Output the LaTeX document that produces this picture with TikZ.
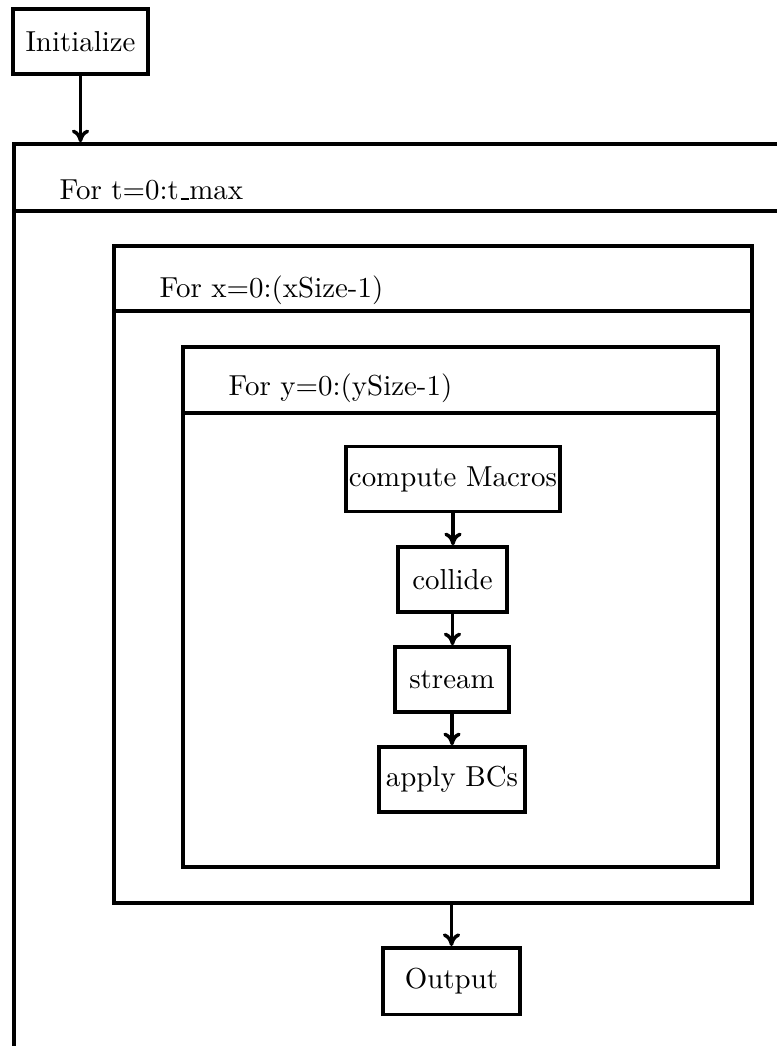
\documentclass[tikz,border=0pt]{standalone}
\usetikzlibrary{arrows.meta,fit}
\newcommand{\lowbar}{\leavevmode\kern.06em\vbox{\hrule width.3em height 0.4pt}}
\begin{document}
\begin{tikzpicture}[x=0.346pt,y=-0.346pt,
  box/.style={draw,line width=1.2pt,inner sep=0pt,minimum height=22.5pt,font=\normalsize},
  container/.style={draw,line width=1.2pt,inner sep=0pt},
  sep/.style={line width=1.2pt},
  head/.style={anchor=west,inner sep=0pt},
  flow/.style={line width=1.2pt,-{To[length=4.4pt,width=6pt]}}]
\useasboundingbox (0,0) rectangle (777,1046);
\clip (0,0) rectangle (777,1046);
% nodes
\node[box,minimum width=46.7pt] (init) at (80.5,41.5) {Initialize};
\node[container,fit={(14,144) (830,1090)}] (tloop) {};
\draw[sep] (14,211) -- (830,211);
\node[head] (thead) at (59,190) {For t=0:t\lowbar max};
\node[container,fit={(114,246) (752,903)}] (xloop) {};
\draw[sep] (xloop.west |- 0,311) -- (xloop.east |- 0,311);
\node[head] (xhead) at (159,290) {For x=0:(xSize-1)};
\node[container,fit={(183,347) (718,867)}] (yloop) {};
\draw[sep] (yloop.west |- 0,413) -- (yloop.east |- 0,413);
\node[head] (yhead) at (228,388) {For y=0:(ySize-1)};
\node[box,minimum width=74pt] (macros) at (453,479) {compute Macros};
\node[box,minimum width=37.7pt] (collide) at (452.5,579.5) {collide};
\node[box,minimum width=39.4pt] (stream) at (452,679.5) {stream};
\node[box,minimum width=50.5pt] (bcs) at (452,779.5) {apply BCs};
\node[box,minimum width=47.4pt,minimum height=23pt] (output) at (451.5,981) {Output};
% connectors
\draw[flow] (init.south) -- (init.south |- tloop.north);
\draw[flow] (macros.south) -- (collide.north -| macros.south);
\draw[flow] (collide.south) -- (stream.north -| collide.south);
\draw[flow] (stream.south) -- (bcs.north -| stream.south);
\draw[flow] (output.north |- xloop.south) -- (output.north);
\end{tikzpicture}
\end{document}
